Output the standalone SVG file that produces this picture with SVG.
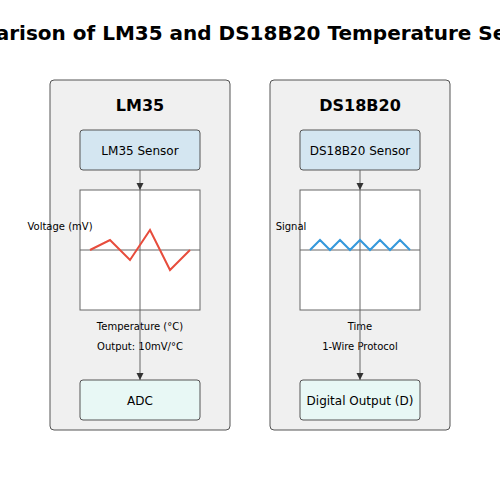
<svg xmlns="http://www.w3.org/2000/svg" width="500" height="500" viewBox="0 0 500 500">
<defs>
<marker id="arr" viewBox="0 0 10 10" refX="10" refY="5" markerWidth="7" markerHeight="10" markerUnits="userSpaceOnUse" orient="auto"><path d="M0,0 L10,5 L0,10 z" fill="#333"/></marker>
<style>
text{font-family:"DejaVu Sans","Noto Sans",sans-serif;text-anchor:middle;fill:#000}
.panel{fill:#f0f0f0;stroke:#555;stroke-width:1}
.sensor{fill:#d4e6f1;stroke:#555;stroke-width:1}
.out{fill:#e8f8f5;stroke:#555;stroke-width:1}
.chart{fill:#fff;stroke:#666;stroke-width:1}
.axis{stroke:#666;stroke-width:1}
.conn{stroke:#666;stroke-width:1;marker-end:url(#arr)}
.lbl{font-size:10px}
.box{font-size:12px}
.head{font-size:16px;font-weight:bold}
</style>
</defs>
<rect width="500" height="500" fill="#fff"/>
<text x="250" y="40" style="font-size:20px;font-weight:bold">Comparison of LM35 and DS18B20 Temperature Sensors</text>

<g id="lm35-panel">
<rect class="panel" x="50" y="80" width="180" height="350" rx="4"/>
<text class="head" x="140" y="111">LM35</text>
</g>
<g id="lm35-sensor">
<rect class="sensor" x="80" y="130" width="120" height="40" rx="3"/>
<text class="box" x="140" y="155">LM35 Sensor</text>
</g>
<g id="lm35-chart">
<rect class="chart" x="80" y="190" width="120" height="120"/>
<line class="axis" x1="80" y1="250" x2="200" y2="250"/>
<line class="axis" x1="140" y1="190" x2="140" y2="310"/>
<polyline points="90,250 110,240 130,260 150,230 170,270 190,250" fill="none" stroke="#e74c3c" stroke-width="2"/>
<text class="lbl" x="60" y="230">Voltage (mV)</text>
<text class="lbl" x="140" y="330">Temperature (°C)</text>
<text class="lbl" x="140" y="350">Output: 10mV/°C</text>
</g>
<g id="lm35-adc">
<rect class="out" x="80" y="380" width="120" height="40" rx="3"/>
<text class="box" x="140" y="405">ADC</text>
</g>

<g id="ds-panel">
<rect class="panel" x="270" y="80" width="180" height="350" rx="4"/>
<text class="head" x="360" y="111">DS18B20</text>
</g>
<g id="ds-sensor">
<rect class="sensor" x="300" y="130" width="120" height="40" rx="3"/>
<text class="box" x="360" y="155">DS18B20 Sensor</text>
</g>
<g id="ds-chart">
<rect class="chart" x="300" y="190" width="120" height="120"/>
<line class="axis" x1="300" y1="250" x2="420" y2="250"/>
<line class="axis" x1="360" y1="190" x2="360" y2="310"/>
<polyline points="310,250 320,240 330,250 340,240 350,250 360,240 370,250 380,240 390,250 400,240 410,250" fill="none" stroke="#3498db" stroke-width="2"/>
<text class="lbl" x="291" y="230">Signal</text>
<text class="lbl" x="360" y="330">Time</text>
<text class="lbl" x="360" y="350">1-Wire Protocol</text>
</g>
<g id="ds-out">
<rect class="out" x="300" y="380" width="120" height="40" rx="3"/>
<text class="box" x="360" y="405">Digital Output (D)</text>
</g>

<g id="connectors">
<line class="conn" x1="140" y1="170" x2="140" y2="190"/>
<line class="conn" x1="140" y1="310" x2="140" y2="380"/>
<line class="conn" x1="360" y1="170" x2="360" y2="190"/>
<line class="conn" x1="360" y1="310" x2="360" y2="380"/>
</g>
</svg>
